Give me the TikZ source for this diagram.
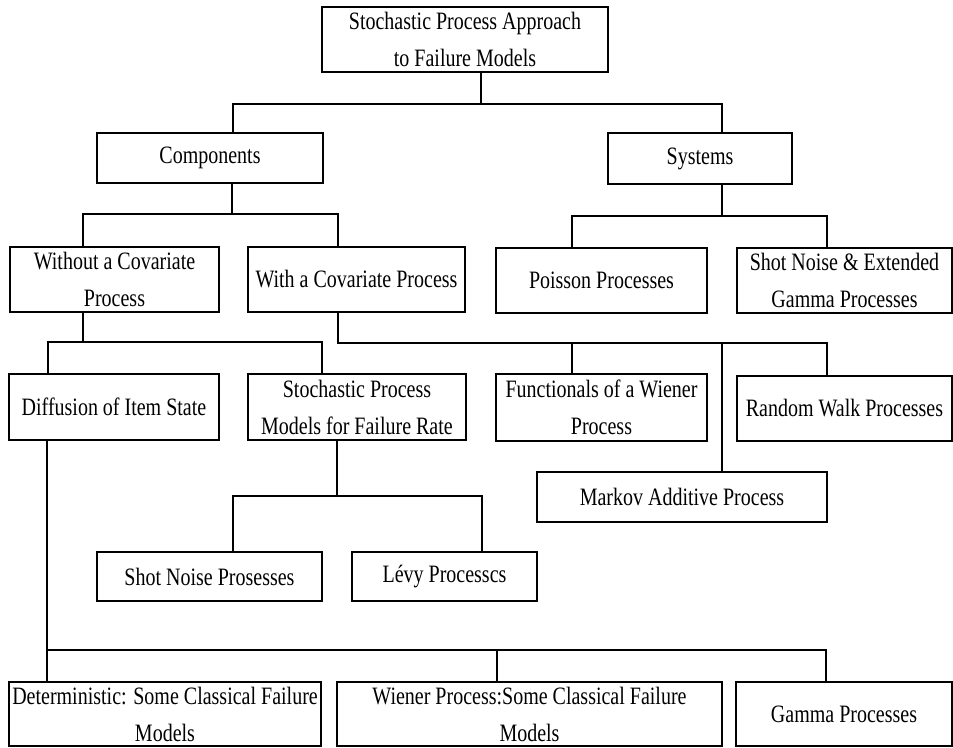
\documentclass[tikz,border=0pt]{standalone}
\usepackage{fontspec}
\setmainfont[FakeStretch=0.8]{Liberation Serif}
\begin{document}
\begin{tikzpicture}[x=1pt,y=-1pt,
  box/.style={draw, line width=1.3pt, rectangle, anchor=north west, inner sep=0pt, outer sep=0pt,
    align=center, font=\fontsize{25}{37}\selectfont},
  link/.style={line width=1.3pt}]
\useasboundingbox (0,0) rectangle (953,747);
\newcommand{\bx}[6]{\node[box, minimum width=#4-#2, minimum height=#5-#3] (#1) at (#2,#3) {#6};}
\bx{root}{322}{7}{608}{72}{Stochastic Process Approach\\to Failure Models}
\bx{comp}{97}{133}{323}{183}{Components}
\bx{sys}{608}{133}{792}{184}{Systems}
\bx{without}{10}{247}{219}{312}{Without a Covariate\\Process}
\bx{with}{248}{247}{465}{312}{With a Covariate Process}
\bx{poisson}{496}{248}{707}{313}{Poisson Processes}
\bx{shotext}{737}{248}{952}{313}{Shot Noise \& Extended\\Gamma Processes}
\bx{diff}{9}{374}{219}{440}{Diffusion of Item State}
\bx{spm}{248}{374}{466}{440}{Stochastic Process\\Models for Failure Rate}
\bx{func}{496}{374}{707}{441}{Functionals of a Wiener\\Process}
\bx{rw}{737}{376}{952}{441}{Random Walk Processes}
\bx{markov}{537}{472}{827}{522}{Markov Additive Process}
\bx{shot}{97}{552}{322}{601}{Shot Noise Prosesses}
\bx{levy}{352}{552}{537}{601}{Lévy Processcs}
\bx{det}{9}{682}{321}{746}{Deterministic: Some Classical Failure\\Models}
\bx{wiener}{337}{682}{722}{746}{Wiener Process:Some Classical Failure\\Models}
\bx{gamma}{736}{682}{952}{746}{Gamma Processes}
% root -> comp, sys
\coordinate (a0) at (481,104); \coordinate (a1) at (233,104); \coordinate (a2) at (722,104);
\draw[link] (root.south -| a0) -- (a0);
\draw[link] (comp.north -| a1) -- (a1) -- (a2) -- (sys.north -| a2);
% comp -> without, with
\coordinate (b0) at (232,214); \coordinate (b1) at (83,214); \coordinate (b2) at (338,214);
\draw[link] (comp.south -| b0) -- (b0);
\draw[link] (without.north -| b1) -- (b1) -- (b2) -- (with.north -| b2);
% sys -> poisson, shotext
\coordinate (c0) at (722,216); \coordinate (c1) at (572,216); \coordinate (c2) at (827,216);
\draw[link] (sys.south -| c0) -- (c0);
\draw[link] (poisson.north -| c1) -- (c1) -- (c2) -- (shotext.north -| c2);
% without -> diff, spm
\coordinate (d0) at (83,342); \coordinate (d1) at (48,342); \coordinate (d2) at (322,342);
\draw[link] (without.south -| d0) -- (d0);
\draw[link] (diff.north -| d1) -- (d1) -- (d2) -- (spm.north -| d2);
% with -> func, markov, rw
\coordinate (e0) at (338,343); \coordinate (e1) at (572,343); \coordinate (e2) at (722,343); \coordinate (e3) at (827,343);
\draw[link] (with.south -| e0) -- (e0) -- (e3) -- (rw.north -| e3);
\draw[link] (e1) -- (func.north -| e1);
\draw[link] (e2) -- (markov.north -| e2);
% spm -> shot, levy
\coordinate (f0) at (337,496); \coordinate (f1) at (233,496); \coordinate (f2) at (482,496);
\draw[link] (spm.south -| f0) -- (f0);
\draw[link] (shot.north -| f1) -- (f1) -- (f2) -- (levy.north -| f2);
% diff -> det, wiener, gamma
\coordinate (g0) at (47,650); \coordinate (g1) at (497,650); \coordinate (g2) at (826,650);
\draw[link] (diff.south -| g0) -- (g0) -- (det.north -| g0);
\draw[link] (g0) -- (g2) -- (gamma.north -| g2);
\draw[link] (g1) -- (wiener.north -| g1);
\end{tikzpicture}
\end{document}
